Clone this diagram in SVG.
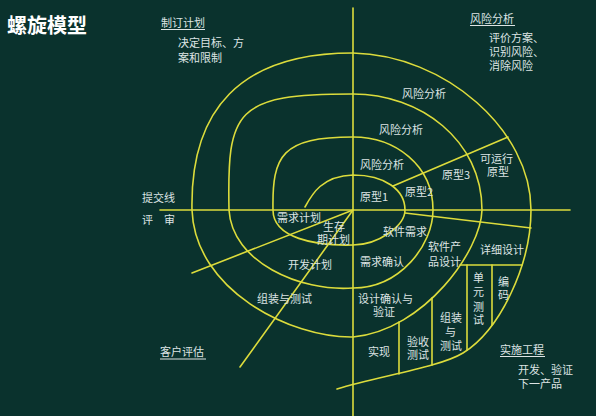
<svg xmlns="http://www.w3.org/2000/svg" width="596" height="416" viewBox="0 0 596 416">
<style>
.ln{fill:none;stroke:#dcdc3c;stroke-width:1.6;stroke-linecap:round;stroke-linejoin:round}
.t{font-family:"Noto Sans CJK SC","Noto Sans",sans-serif;font-size:11px;fill:#dde4e4}
.ul{stroke:#dde4e4;stroke-width:1}
.title{font-family:"Noto Sans CJK SC","Noto Sans",sans-serif;font-size:20px;font-weight:bold;fill:#ffffff}
</style>
<rect width="596" height="416" fill="#0a322d"/>
<g id="connectors">
<path id="axis-v" class="ln" d="M353,8 V416"/>
<path id="axis-h" class="ln" d="M160,210 H570"/>
<path id="spiral" class="ln" d="M305,207 C312,194 322,176 353,175 C385,175 405,190 405,210 C405,226 378,245 353,245 C315,246 273,238 273,210 C272,155 282,137 353,137 C395,137 433,165 433,210 C433,245 400,288 353,288 C300,292 232,262 229,210 C227,110 235,94 353,94 C420,94 482,140 482,210 C481,250 425,330 353,337 C290,338 195,290 192,210 C190,110 240,53 353,53 C445,55 531,130 531,210 C531,265 500,330 463,353 C440,367 380,376 337,389"/>
<path class="ln" d="M353,210 L192,273"/>
<path class="ln" d="M353,210 L240,367"/>
<path class="ln" d="M393,186 L508,137"/>
<path class="ln" d="M405,213 L531,228"/>
<path class="ln" d="M399,322 V374"/>
<path class="ln" d="M432,298 V365"/>
<path class="ln" d="M467,265 V350"/>
<path class="ln" d="M460,265 H522"/>
<path class="ln" d="M492,265 V325"/>
</g>
<g id="title"><text class="title" x="7" y="33">螺旋模型</text></g>
<g id="plan">
<text class="t" x="161" y="27">制订计划</text><line class="ul" x1="161" y1="29.5" x2="205" y2="29.5"/>
<text class="t"><tspan x="178" y="47">决定目标、方</tspan><tspan x="178" y="62">案和限制</tspan></text>
</g>
<g id="risk">
<text class="t" x="470" y="23">风险分析</text><line class="ul" x1="470" y1="25.5" x2="515" y2="25.5"/>
<text class="t"><tspan x="489" y="42">评价方案、</tspan><tspan x="489" y="56">识别风险、</tspan><tspan x="489" y="70">消除风险</tspan></text>
</g>
<g id="eval">
<text class="t" x="160" y="356">客户评估</text><line class="ul" x1="160" y1="359" x2="206" y2="359"/>
</g>
<g id="impl">
<text class="t" x="500" y="354">实施工程</text><line class="ul" x1="500" y1="356.5" x2="545" y2="356.5"/>
<text class="t"><tspan x="518" y="374">开发、验证</tspan><tspan x="518" y="388">下一产品</tspan></text>
</g>
<g id="review">
<text class="t" x="142" y="202">提交线</text>
<text class="t" x="142" y="224">评　审</text>
</g>
<g id="labels">
<text class="t" x="402" y="98">风险分析</text>
<text class="t" x="379" y="134">风险分析</text>
<text class="t" x="360" y="169">风险分析</text>
<text class="t" x="360" y="201">原型1</text>
<text class="t" x="405" y="196">原型2</text>
<text class="t" x="442" y="179">原型3</text>
<text class="t"><tspan x="480" y="163">可运行</tspan><tspan x="487" y="176">原型</tspan></text>
<text class="t" x="277" y="222">需求计划</text>
<text class="t"><tspan x="323" y="231">生存</tspan><tspan x="317" y="244">期计划</tspan></text>
<text class="t" x="288" y="269">开发计划</text>
<text class="t" x="383" y="236">软件需求</text>
<text class="t" x="360" y="266">需求确认</text>
<text class="t"><tspan x="428" y="251">软件产</tspan><tspan x="428" y="266">品设计</tspan></text>
<text class="t" x="480" y="254">详细设计</text>
<text class="t" x="257" y="303">组装与测试</text>
<text class="t"><tspan x="358" y="303">设计确认与</tspan><tspan x="373" y="316">验证</tspan></text>
<text class="t" x="368" y="356">实现</text>
<text class="t"><tspan x="407" y="346">验收</tspan><tspan x="407" y="359">测试</tspan></text>
<text class="t"><tspan x="440" y="322">组装</tspan><tspan x="445" y="336">与</tspan><tspan x="440" y="350">测试</tspan></text>
<text class="t"><tspan x="473" y="282">单</tspan><tspan x="473" y="296">元</tspan><tspan x="473" y="311">测</tspan><tspan x="473" y="324">试</tspan></text>
<text class="t"><tspan x="498" y="286">编</tspan><tspan x="498" y="299">码</tspan></text>
</g>
</svg>
